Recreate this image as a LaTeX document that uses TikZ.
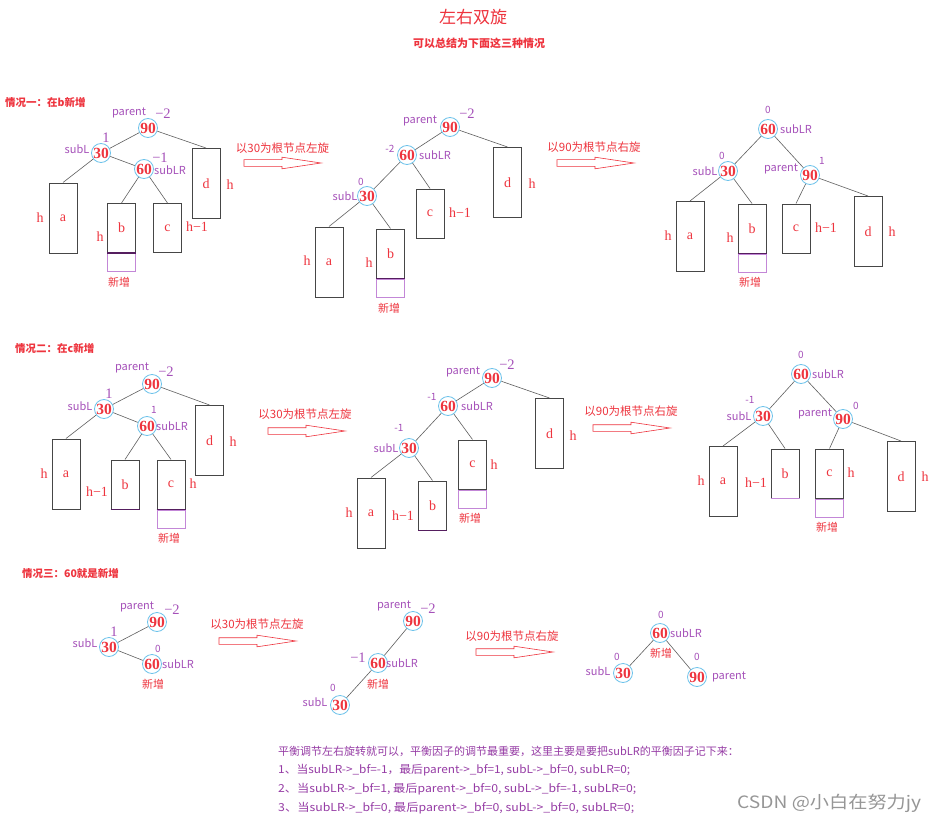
\documentclass[tikz,border=0pt]{standalone}
\usepackage{fontspec}
\setmainfont{Liberation Serif}
\newfontfamily\cjk{Noto Sans CJK SC}
\definecolor{redc}{RGB}{238,52,62}
\definecolor{purc}{RGB}{165,80,185}
\definecolor{bottc}{RGB}{150,60,165}
\definecolor{cyanc}{RGB}{110,195,235}
\definecolor{boxc}{RGB}{70,70,70}
\definecolor{edgec}{RGB}{95,95,95}
\definecolor{newc}{RGB}{195,135,215}
\definecolor{dpur}{RGB}{85,30,95}
\definecolor{wmc}{RGB}{150,150,150}
\tikzset{
  nd/.style={circle, draw=cyanc, line width=0.8pt, minimum size=19pt, inner sep=0pt,
     text=redc, font=\bfseries\fontsize{15.5}{15.5}\selectfont},
  bx/.style={draw=boxc, line width=1pt, inner sep=0pt, minimum width=28pt,
     text=redc, font=\fontsize{14}{14}\selectfont},
  tall/.style={bx, minimum height=70pt},
  short/.style={bx, minimum height=49pt},
  newbox/.style={draw=newc, line width=0.8pt, minimum width=28pt, minimum height=18pt,
     inner sep=0pt, anchor=north},
  hl/.style={text=redc, font=\fontsize{14}{14}\selectfont, inner sep=0pt},
  pl/.style={text=purc, font=\cjk\fontsize{11}{11}\selectfont, inner sep=0pt},
  bfs/.style={text=purc, font=\fontsize{14.5}{14.5}\selectfont, inner sep=0pt},
  bfn/.style={text=purc, font=\cjk\fontsize{10}{10}\selectfont, inner sep=0pt},
  xz/.style={text=redc, font=\cjk\fontsize{11}{11}\selectfont, inner sep=0pt},
  atxt/.style={text=redc, font=\cjk\fontsize{11.5}{11.5}\selectfont, inner sep=0pt},
  head/.style={text=redc, font=\cjk\bfseries\fontsize{10.5}{10.5}\selectfont, inner sep=0pt, anchor=west},
  bline/.style={text=bottc, font=\cjk\fontsize{11}{11}\selectfont, inner sep=0pt, anchor=west},
  ed/.style={draw=edgec, line width=0.6pt},
  harrow/.pic={\draw[redc, line width=0.6pt, fill=white] (0,-3.3) -- (38,-3.3) -- (38,-5.8) -- (77,0) -- (38,5.8) -- (38,3.3) -- (0,3.3) -- cycle;}
}
\begin{document}
\begin{tikzpicture}[x=1pt,y=-1pt]
\useasboundingbox (0,0) rectangle (937,824);
\fill[white] (0,0) rectangle (937,824);

% titles
\node[text=redc, font=\cjk\fontsize{17}{17}\selectfont, inner sep=0pt] (title) at (473,17) {左右双旋};
\node[text=redc, font=\cjk\bfseries\fontsize{11}{11}\selectfont, inner sep=0pt] (subtitle) at (479,43) {可以总结为下面这三种情况};

% ================= case 1 =================
\node[head] (h1) at (5,102) {情况一：在b新增};
% tree 1
\node[nd] (a90) at (148,128) {\makebox[0pt]{90}};
\node[nd] (a30) at (101,153) {\makebox[0pt]{30}};
\node[nd] (a60) at (144,169) {\makebox[0pt]{60}};
\node[tall] (aA) at (63,218) {a};
\node[short] (aB) at (121.5,228) {b};
\node[newbox] (aN) at (aB.south) {};
\draw[dpur, line width=1.2pt] (aB.south west) -- (aB.south east);
\node[short] (aC) at (167.5,228) {c};
\node[tall] (aD) at (206,183.5) {d};
\draw[ed] (a90) -- (a30);
\draw[ed] (a90) -- (aD.north);
\draw[ed] (a30) -- (aA.north);
\draw[ed] (a30) -- (a60);
\draw[ed] (a60) -- (aB.north);
\draw[ed] (a60) -- (aC.north);
\node[pl] (ap) at (129,113) {parent};
\node[bfs] (ab1) at (163,114) {−2};
\node[bfs] (ab2) at (106,138) {1};
\node[pl] (asl) at (77,149) {subL};
\node[bfs] (ab3) at (160,158) {−1};
\node[pl] (aslr) at (170,170) {subLR};
\node[hl] (ah1) at (40,218) {h};
\node[hl] (ah2) at (100,237) {h};
\node[hl] (ah3) at (197,227) {h−1};
\node[hl] (ah4) at (230,185) {h};
\node[xz] (ax) at (119,282) {新增};

% arrow 1
\node[atxt] (t1) at (282.5,148) {以30为根节点左旋};
\pic at (244,163) {harrow};

% tree 2
\node[nd] (b90) at (450,127) {\makebox[0pt]{90}};
\node[nd] (b60) at (407,155) {\makebox[0pt]{60}};
\node[nd] (b30) at (367,196) {\makebox[0pt]{30}};
\node[tall] (bA) at (329,262) {a};
\node[short] (bB) at (390.5,253.5) {b};
\node[newbox] (bN) at (bB.south) {};
\draw[dpur, line width=1.2pt] (bB.south west) -- (bB.south east);
\node[short] (bC) at (430,213.5) {c};
\node[tall] (bD) at (507.5,182.5) {d};
\draw[ed] (b90) -- (b60);
\draw[ed] (b90) -- (bD.north);
\draw[ed] (b60) -- (b30);
\draw[ed] (b60) -- (bC.north);
\draw[ed] (b30) -- (bA.north);
\draw[ed] (b30) -- (bB.north);
\node[pl] (bp) at (420,121) {parent};
\node[bfs] (bb1) at (467,114) {−2};
\node[bfn] (bb2) at (390,149) {-2};
\node[pl] (bslr) at (435,155) {subLR};
\node[bfn] (bb3) at (361,182) {0};
\node[pl] (bsl) at (345,196) {subL};
\node[hl] (bh1) at (307,261) {h};
\node[hl] (bh2) at (369,263) {h};
\node[hl] (bh3) at (460,213) {h−1};
\node[hl] (bh4) at (532,184) {h};
\node[xz] (bx) at (389,308) {新增};

% arrow 2
\node[atxt] (t2) at (594,147) {以90为根节点右旋};
\pic at (557,163) {harrow};

% tree 3
\node[nd] (c60) at (768,129) {\makebox[0pt]{60}};
\node[nd] (c30) at (728,171) {\makebox[0pt]{30}};
\node[nd] (c90) at (810,175) {\makebox[0pt]{90}};
\node[tall] (cA) at (690,236.5) {a};
\node[short] (cB) at (752,228.5) {b};
\node[newbox] (cN) at (cB.south) {};
\draw[dpur, line width=1.2pt] (cB.south west) -- (cB.south east);
\node[short] (cC) at (796,228.5) {c};
\node[tall] (cD) at (868,231.5) {d};
\draw[ed] (c60) -- (c30);
\draw[ed] (c60) -- (c90);
\draw[ed] (c30) -- (cA.north);
\draw[ed] (c30) -- (cB.north);
\draw[ed] (c90) -- (cC.north);
\draw[ed] (c90) -- (cD.north);
\node[bfn] (cb1) at (768,110) {0};
\node[pl] (cslr) at (796,129) {subLR};
\node[bfn] (cb2) at (722,156) {0};
\node[pl] (csl) at (705,171) {subL};
\node[pl] (cp) at (781,169) {parent};
\node[bfn] (cb3) at (822,161) {1};
\node[hl] (ch1) at (668,236) {h};
\node[hl] (ch2) at (730,238) {h};
\node[hl] (ch3) at (826,228) {h−1};
\node[hl] (ch4) at (892,232) {h};
\node[xz] (cx) at (750,282) {新增};

% ================= case 2 =================
\node[head] (h2) at (15,348) {情况二：在c新增};
% tree 1
\node[nd] (d90) at (152,384) {\makebox[0pt]{90}};
\node[nd] (d30) at (104,409) {\makebox[0pt]{30}};
\node[nd] (d60) at (147,426) {\makebox[0pt]{60}};
\node[tall] (dA) at (66,474) {a};
\node[short] (dB) at (125,484.5) {b};
\draw[dpur, line width=1.2pt] (dB.south west) -- (dB.south east);
\node[short] (dC) at (171,484.5) {c};
\node[newbox] (dN) at (dC.south) {};
\draw[dpur, line width=1.2pt] (dC.south west) -- (dC.south east);
\node[tall] (dD) at (209.5,440.5) {d};
\draw[ed] (d90) -- (d30);
\draw[ed] (d90) -- (dD.north);
\draw[ed] (d30) -- (dA.north);
\draw[ed] (d30) -- (d60);
\draw[ed] (d60) -- (dB.north);
\draw[ed] (d60) -- (dC.north);
\node[pl] (dp) at (132,368) {parent};
\node[bfs] (db1) at (166,372) {−2};
\node[bfs] (db2) at (109,394) {1};
\node[pl] (dsl) at (80,406) {subL};
\node[bfn] (db3) at (154,410) {1};
\node[pl] (dslr) at (172,426) {subLR};
\node[hl] (dh1) at (44,474) {h};
\node[hl] (dh2) at (97,492) {h−1};
\node[hl] (dh3) at (193,484) {h};
\node[hl] (dh4) at (233,442) {h};
\node[xz] (dx) at (169,538) {新增};

% arrow 3
\node[atxt] (t3) at (305,414) {以30为根节点左旋};
\pic at (268,431) {harrow};

% tree 2
\node[nd] (e90) at (492,378) {\makebox[0pt]{90}};
\node[nd] (e60) at (448,406) {\makebox[0pt]{60}};
\node[nd] (e30) at (409,448) {\makebox[0pt]{30}};
\node[tall] (eA) at (371,513) {a};
\node[short] (eB) at (432.5,505.5) {b};
\draw[dpur, line width=1.2pt] (eB.south west) -- (eB.south east);
\node[short] (eC) at (472.5,464.5) {c};
\node[newbox] (eN) at (eC.south) {};
\draw[boxc, line width=1.2pt] (eC.south west) -- (eC.south east);
\node[tall] (eD) at (549.5,433.5) {d};
\draw[ed] (e90) -- (e60);
\draw[ed] (e90) -- (eD.north);
\draw[ed] (e60) -- (e30);
\draw[ed] (e60) -- (eC.north);
\draw[ed] (e30) -- (eA.north);
\draw[ed] (e30) -- (eB.north);
\node[pl] (ep) at (463,372) {parent};
\node[bfs] (eb1) at (507,365) {−2};
\node[bfn] (eb2) at (432,397) {-1};
\node[pl] (eslr) at (477,406) {subLR};
\node[bfn] (eb3) at (399,428) {-1};
\node[pl] (esl) at (386,448) {subL};
\node[hl] (eh1) at (349,513) {h};
\node[hl] (eh2) at (403,516) {h−1};
\node[hl] (eh3) at (494,465) {h};
\node[hl] (eh4) at (573,436) {h};
\node[xz] (ex) at (470,518) {新增};

% arrow 4
\node[atxt] (t4) at (631,411) {以90为根节点右旋};
\pic at (593,428) {harrow};

% tree 3
\node[nd] (f60) at (801,374) {\makebox[0pt]{60}};
\node[nd] (f30) at (763,416) {\makebox[0pt]{30}};
\node[nd] (f90) at (843,419) {\makebox[0pt]{90}};
\node[tall] (fA) at (723,481.5) {a};
\node[short] (fB) at (785,473.5) {b};
\draw[newc, line width=1.2pt] (fB.south west) -- (fB.south east);
\node[short] (fC) at (829.5,473.5) {c};
\node[newbox] (fN) at (fC.south) {};
\draw[boxc, line width=1.2pt] (fC.south west) -- (fC.south east);
\node[tall] (fD) at (901,476.5) {d};
\draw[ed] (f60) -- (f30);
\draw[ed] (f60) -- (f90);
\draw[ed] (f30) -- (fA.north);
\draw[ed] (f30) -- (fB.north);
\draw[ed] (f90) -- (fC.north);
\draw[ed] (f90) -- (fD.north);
\node[bfn] (fb1) at (801,355) {0};
\node[pl] (fslr) at (828,374) {subLR};
\node[bfn] (fb2) at (750,400) {-1};
\node[pl] (fsl) at (739,416) {subL};
\node[pl] (fp) at (815,414) {parent};
\node[bfn] (fb3) at (856,406) {0};
\node[hl] (fh1) at (701,481) {h};
\node[hl] (fh2) at (756,483) {h−1};
\node[hl] (fh3) at (851,473) {h};
\node[hl] (fh4) at (925,477) {h};
\node[xz] (fx) at (827,527) {新增};

% ================= case 3 =================
\node[head] (h3) at (22,573) {情况三：60就是新增};
% tree 1
\node[nd] (g90) at (157,622) {\makebox[0pt]{90}};
\node[nd] (g30) at (109,647) {\makebox[0pt]{30}};
\node[nd] (g60) at (152,664) {\makebox[0pt]{60}};
\draw[ed] (g90) -- (g30);
\draw[ed] (g30) -- (g60);
\node[pl] (gp) at (137,607) {parent};
\node[bfs] (gb1) at (172,610) {−2};
\node[bfs] (gb2) at (114,632) {1};
\node[pl] (gsl) at (85,643) {subL};
\node[bfn] (gb3) at (158,649) {0};
\node[pl] (gslr) at (178,664) {subLR};
\node[xz] (gx) at (153,684) {新增};

% arrow 5
\node[atxt] (t5) at (257,624) {以30为根节点左旋};
\pic at (219,641) {harrow};

% tree 2
\node[nd] (k90) at (413,621) {\makebox[0pt]{90}};
\node[nd] (k60) at (378,663) {\makebox[0pt]{60}};
\node[nd] (k30) at (340,705) {\makebox[0pt]{30}};
\draw[ed] (k90) -- (k60);
\draw[ed] (k60) -- (k30);
\node[pl] (kp) at (394,606) {parent};
\node[bfs] (kb1) at (428,609) {−2};
\node[bfs] (kb2) at (358,658) {−1};
\node[pl] (kslr) at (402,663) {subLR};
\node[xz] (kx) at (378,684) {新增};
\node[bfn] (kb3) at (333,688) {0};
\node[pl] (ksl) at (315,702) {subL};

% arrow 6
\node[atxt] (t6) at (512,636) {以90为根节点右旋};
\pic at (476,652) {harrow};

% tree 3
\node[nd] (m60) at (660,633) {\makebox[0pt]{60}};
\node[nd] (m30) at (623,673) {\makebox[0pt]{30}};
\node[nd] (m90) at (697,677) {\makebox[0pt]{90}};
\draw[ed] (m60) -- (m30);
\draw[ed] (m60) -- (m90);
\node[bfn] (mb1) at (661,615) {0};
\node[pl] (mslr) at (686,633) {subLR};
\node[xz] (mx) at (661,653) {新增};
\node[bfn] (mb2) at (617,657) {0};
\node[pl] (msl) at (598,671) {subL};
\node[bfn] (mb3) at (697,657) {0};
\node[pl] (mp) at (729,677) {parent};

% ================= bottom text =================
\node[bline] (l1) at (278,751) {平衡调节左右旋转就可以，平衡因子的调节最重要，这里主要是要把subLR的平衡因子记下来：};
\node[bline] (l2) at (278,770) {\resizebox{352pt}{\height}{1、当subLR->\_bf=-1，最后parent->\_bf=1, subL->\_bf=0, subLR=0;}};
\node[bline] (l3) at (278,789) {\resizebox{358pt}{\height}{2、当subLR->\_bf=1, 最后parent->\_bf=0, subL->\_bf=-1, subLR=0;}};
\node[bline] (l4) at (278,808) {\resizebox{356pt}{\height}{3、当subLR->\_bf=0, 最后parent->\_bf=0, subL->\_bf=0, subLR=0;}};
\node[text=wmc, font=\cjk\fontsize{17}{17}\selectfont, inner sep=0pt, anchor=west] (wm) at (737,803) {\resizebox{184pt}{\height}{CSDN @小白在努力jy}};
\end{tikzpicture}
\end{document}
